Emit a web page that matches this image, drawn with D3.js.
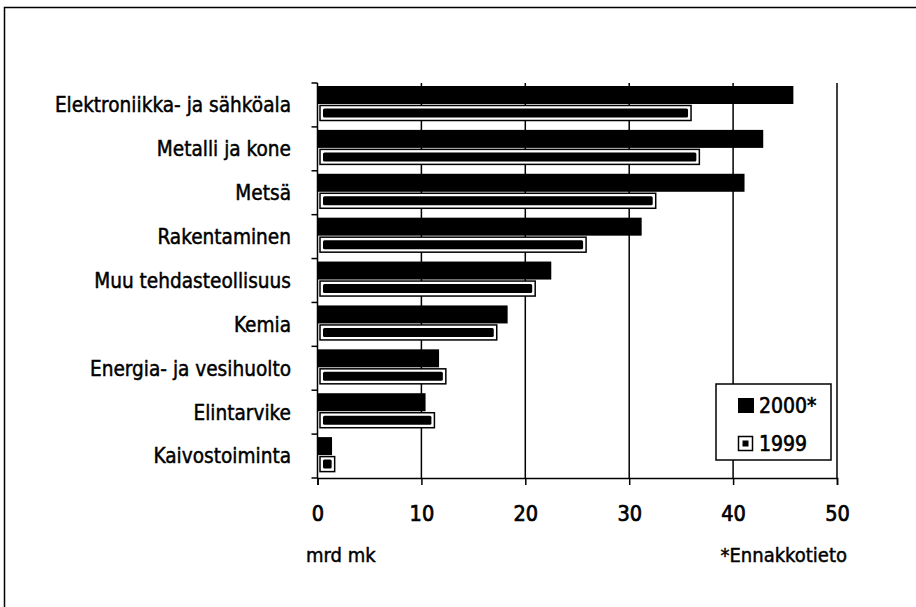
<!DOCTYPE html>
<html>
<head>
<meta charset="utf-8">
<script src="https://cdn.jsdelivr.net/npm/d3@7"></script>
<style>
  body { margin: 0; background: #fff; }
  text { font-family: "Liberation Sans Narrow", "DejaVu Sans Condensed", "Roboto Condensed", sans-serif; fill: #000; stroke: #000; stroke-width: 0.45px; }
</style>
</head>
<body>
<svg id="chart" width="916" height="607"></svg>
<script>
// toimialat ja arvot (mrd mk)
const categories = ["Elektroniikka- ja sähköala", "Metalli ja kone", "Metsä", "Rakentaminen",
  "Muu tehdasteollisuus", "Kemia", "Energia- ja vesihuolto", "Elintarvike", "Kaivostoiminta"];
const values2000 = [45.8, 42.9, 41.1, 31.2, 22.5, 18.3, 11.7, 10.4, 1.4];
const values1999 = [36.0, 36.8, 32.6, 25.9, 21.0, 17.3, 12.4, 11.3, 1.7];
const xTicks = [0, 10, 20, 30, 40, 50];
const seriesNames = ["2000*", "1999"];

const svg = d3.select("#chart");

// kehys
svg.append("path")
  .attr("d", "M4.5,607 L4.5,7.5 L916,7.5")
  .attr("fill", "none").attr("stroke", "#000").attr("stroke-width", 1.5);

const pLeft = 317.5, pRight = 837, pTop = 83, pBottom = 478;

const x = d3.scaleLinear().domain([0, 50]).range([pLeft, pRight]);
const y = d3.scaleBand().domain(categories).range([pTop, pBottom]).paddingInner(0).paddingOuter(0);

const g = svg.append("g");

// gridlines
g.selectAll("line.grid").data(xTicks.slice(1)).enter()
  .append("line")
  .attr("x1", d => x(d)).attr("x2", d => x(d))
  .attr("y1", pTop).attr("y2", pBottom)
  .attr("stroke", "#000").attr("stroke-width", 1.5);

// x axis
const xAxis = d3.axisBottom(x).tickValues(xTicks).tickSize(7).tickPadding(21).tickFormat(d3.format("d"));
const xg = g.append("g").attr("transform", `translate(0,${pBottom})`).call(xAxis);
xg.select(".domain").attr("stroke-width", 1.5);
xg.selectAll(".tick line").attr("stroke-width", 1.5);
xg.selectAll("text").style("font-size", "21.5px")
  .attr("fill", "#000").attr("font-family", null).style("stroke-width", "0.7px");

// y axis (ticks at band edges)
g.append("line").attr("x1", pLeft).attr("x2", pLeft).attr("y1", pTop).attr("y2", pBottom)
  .attr("stroke", "#000").attr("stroke-width", 1.5);
const edges = categories.map(c => y(c)).concat([pBottom]);
g.selectAll("line.ytick").data(edges).enter()
  .append("line")
  .attr("x1", pLeft - 6).attr("x2", pLeft)
  .attr("y1", d => d).attr("y2", d => d)
  .attr("stroke", "#000").attr("stroke-width", 1.5);

g.selectAll("text.cat").data(categories).enter()
  .append("text")
  .attr("x", 291)
  .attr("y", d => y(d) + y.bandwidth() / 2)
  .attr("dy", "0.36em")
  .attr("text-anchor", "end")
  .style("font-size", "20.6px")
  .text(d => d);

// 2000 bars
g.selectAll("rect.b2000").data(categories).enter()
  .append("rect")
  .attr("x", x(0))
  .attr("y", d => y(d) + 3)
  .attr("width", (d, i) => x(values2000[i]) - x(0))
  .attr("height", 18)
  .attr("fill", "#000");

// 1999 bars: musta reuna, valkoinen rengas, musta ydin
g.selectAll("rect.b1999").data(categories).enter()
  .append("rect")
  .attr("x", x(0) + 2.5)
  .attr("y", d => y(d) + 22.5)
  .attr("width", (d, i) => x(values1999[i]) - x(0) - 3)
  .attr("height", 15)
  .attr("fill", "#fff").attr("stroke", "#000").attr("stroke-width", 1.5);
g.selectAll("rect.b1999in").data(categories).enter()
  .append("rect")
  .attr("x", x(0) + 5.5)
  .attr("y", d => y(d) + 25.5)
  .attr("width", (d, i) => Math.max(1, x(values1999[i]) - x(0) - 9))
  .attr("height", 9)
  .attr("rx", 1.5)
  .attr("fill", "#000");

// legend
const lg = svg.append("g");
lg.append("rect").attr("x", 716).attr("y", 384).attr("width", 115).attr("height", 76)
  .attr("fill", "#fff").attr("stroke", "#000").attr("stroke-width", 1.5);
lg.append("rect").attr("x", 738).attr("y", 398).attr("width", 16).attr("height", 15).attr("fill", "#000");
lg.append("rect").attr("x", 738.5).attr("y", 436.5).attr("width", 14).attr("height", 14)
  .attr("fill", "#fff").attr("stroke", "#000").attr("stroke-width", 1.5);
lg.append("rect").attr("x", 742.5).attr("y", 440.5).attr("width", 6).attr("height", 6).attr("fill", "#000");
lg.selectAll("text").data(seriesNames).enter()
  .append("text")
  .attr("x", 759)
  .attr("y", (d, i) => 413 + i * 38)
  .style("font-size", "21px")
  .style("stroke-width", "0.6px")
  .text(d => d);

// footer texts
svg.append("text").attr("x", 306).attr("y", 562).style("font-size", "20px").text("mrd mk");
svg.append("text").attr("x", 847).attr("y", 562).attr("text-anchor", "end").style("font-size", "20px").text("*Ennakkotieto");
</script>
</body>
</html>
